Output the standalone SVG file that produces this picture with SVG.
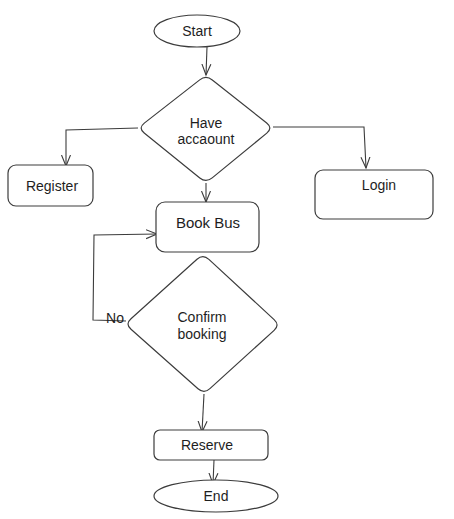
<svg xmlns="http://www.w3.org/2000/svg" width="454" height="519" viewBox="0 0 454 519">
<defs>
<marker id="arr" markerUnits="userSpaceOnUse" markerWidth="14" markerHeight="14" refX="11" refY="6" orient="auto" viewBox="0 0 14 12">
<path d="M0,1.5 L11,6 L0,10.5" fill="none" stroke="#3c3c3c" stroke-width="1.1"/>
</marker>
</defs>
<style>
.s{fill:#fff;stroke:#3c3c3c;stroke-width:1.2}
.c{fill:none;stroke:#3c3c3c;stroke-width:1.1}
text{font-family:"Liberation Sans",Arial,sans-serif;font-size:14px;fill:#1e1e1e;text-anchor:middle;dominant-baseline:central}
</style>
<rect width="454" height="519" fill="#fff"/>
<g id="connectors">
<path class="c" d="M207,47 L206,75" marker-end="url(#arr)"/>
<path class="c" d="M138,128 L66,130 L66,166" marker-end="url(#arr)"/>
<path class="c" d="M273,127 L364,127 L366,168" marker-end="url(#arr)"/>
<path class="c" d="M206,183 L206,202" marker-end="url(#arr)"/>
<path class="c" d="M126,321 L93,320 L94,235 L157,234" marker-end="url(#arr)"/>
<path class="c" d="M204,394 L202,432" marker-end="url(#arr)"/>
<path class="c" d="M214,460 L213,484" marker-end="url(#arr)"/>
</g>
<g id="start">
<ellipse class="s" cx="197" cy="31" rx="43" ry="16"/>
<text x="197" y="31">Start</text>
</g>
<g id="have-account">
<path class="s" d="M199.7,79.9 Q206,75 212.3,80 L266.7,123 Q273,128 266.8,133.1 L212.2,177.9 Q206,183 199.8,178 L144.2,133 Q138,128 144.3,123.1 Z"/>
<text x="206" y="123">Have</text>
<text x="206" y="139">accaount</text>
</g>
<g id="register">
<rect class="s" x="8" y="165" width="85" height="41" rx="8"/>
<text x="52" y="186">Register</text>
</g>
<g id="login">
<rect class="s" x="315" y="170" width="118" height="49" rx="8"/>
<text x="379" y="185">Login</text>
</g>
<g id="book-bus">
<rect class="s" x="156" y="202" width="103" height="50" rx="9"/>
<text x="208" y="222" style="font-size:15px">Book Bus</text>
</g>
<g id="confirm-booking">
<path class="s" d="M197,259.3 Q203,254 208.9,259.4 L274.1,319.6 Q280,325 274.1,330.4 L209.9,388.6 Q204,394 198,388.7 L131,329.3 Q125,324 131,318.7 Z"/>
<text x="202" y="317">Confirm</text>
<text x="202" y="334">booking</text>
</g>
<text x="115" y="318">No</text>
<g id="reserve">
<rect class="s" x="154" y="430" width="114" height="30" rx="6"/>
<text x="207" y="445">Reserve</text>
</g>
<g id="end">
<ellipse class="s" cx="216" cy="496" rx="62" ry="16"/>
<text x="216" y="496">End</text>
</g>
</svg>
